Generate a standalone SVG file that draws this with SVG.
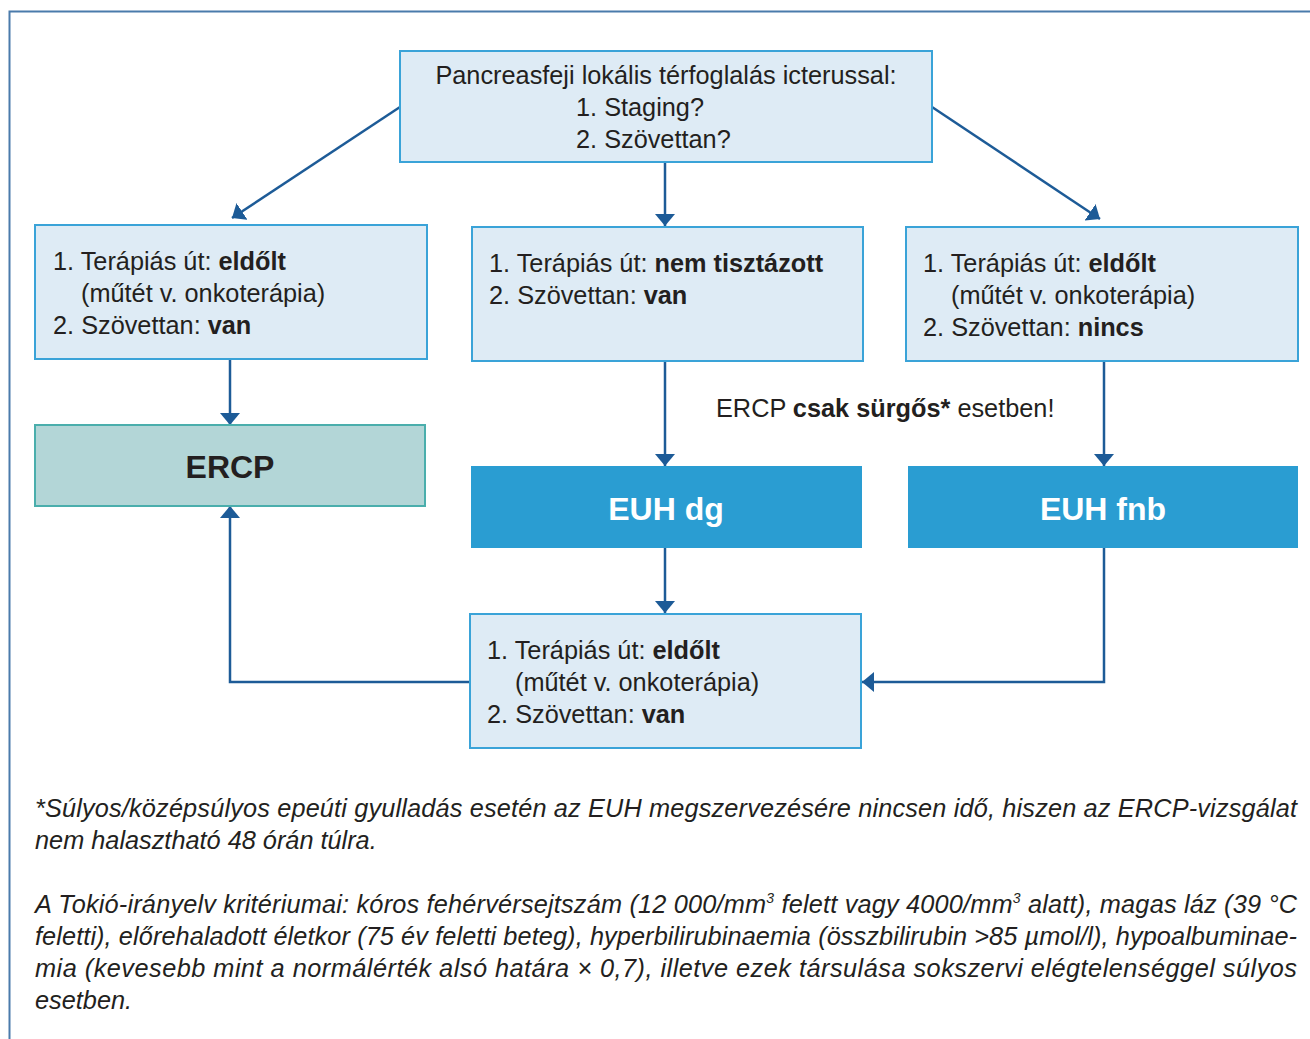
<svg xmlns="http://www.w3.org/2000/svg" width="1310" height="1039" viewBox="0 0 1310 1039">
<defs>
<marker id="ah" viewBox="0 0 12 20" refX="12" refY="10" markerWidth="12" markerHeight="20" markerUnits="userSpaceOnUse" orient="auto">
<path d="M0,0 L12,10 L0,20 Z" fill="#1d5b97"/>
</marker>
<style>
.box{fill:#deebf5;stroke:#3aa3d8;stroke-width:2}
.ercp{fill:#b3d6d7;stroke:#4aaeac;stroke-width:2}
.euh{fill:#2a9dd2}
.t{font-family:"Liberation Sans",Arial,sans-serif;font-size:25.3px;fill:#231f20}
.b{font-weight:bold}
.big{font-family:"Liberation Sans",Arial,sans-serif;font-size:32px;font-weight:bold}
.fn{font-family:"Liberation Sans",Arial,sans-serif;font-size:25.3px;font-style:italic;fill:#231f20}
.c{fill:none;stroke:#1d5b97;stroke-width:2.5;marker-end:url(#ah)}
</style>
</defs>
<rect width="1310" height="1039" fill="#ffffff"/>
<path d="M9.5,1039 V11.5 H1310" fill="none" stroke="#4a7bab" stroke-width="2"/>

<g id="connectors">
<line class="c" x1="400" y1="107" x2="232" y2="218"/>
<line class="c" x1="665" y1="162" x2="665" y2="226"/>
<line class="c" x1="932" y1="107" x2="1100" y2="219"/>
<line class="c" x1="230" y1="359" x2="230" y2="425"/>
<line class="c" x1="665" y1="361" x2="665" y2="466"/>
<line class="c" x1="1104" y1="361" x2="1104" y2="466"/>
<line class="c" x1="665" y1="548" x2="665" y2="613"/>
<polyline class="c" points="1104,548 1104,682 862,682"/>
<polyline class="c" points="470,682 230,682 230,506"/>
</g>

<g id="n-top">
<rect class="box" x="400" y="51" width="532" height="111"/>
<text class="t" x="666" y="84" text-anchor="middle">Pancreasfeji lokális térfoglalás icterussal:</text>
<text class="t" x="576" y="116">1. Staging?</text>
<text class="t" x="576" y="148">2. Szövettan?</text>
</g>

<g id="n-left">
<rect class="box" x="35" y="225" width="392" height="134"/>
<text class="t" x="53" y="270">1. Terápiás út: <tspan class="b">eldőlt</tspan></text>
<text class="t" x="81" y="302">(műtét v. onkoterápia)</text>
<text class="t" x="53" y="334">2. Szövettan: <tspan class="b">van</tspan></text>
</g>

<g id="n-mid">
<rect class="box" x="472" y="227" width="391" height="134"/>
<text class="t" x="489" y="272">1. Terápiás út: <tspan class="b">nem tisztázott</tspan></text>
<text class="t" x="489" y="304">2. Szövettan: <tspan class="b">van</tspan></text>
</g>

<g id="n-right">
<rect class="box" x="906" y="227" width="392" height="134"/>
<text class="t" x="923" y="272">1. Terápiás út: <tspan class="b">eldőlt</tspan></text>
<text class="t" x="951" y="304">(műtét v. onkoterápia)</text>
<text class="t" x="923" y="336">2. Szövettan: <tspan class="b">nincs</tspan></text>
</g>

<g id="n-ercp">
<rect class="ercp" x="35" y="425" width="390" height="81"/>
<text class="big" x="230" y="478" text-anchor="middle" fill="#231f20">ERCP</text>
</g>

<g id="n-euhdg">
<rect class="euh" x="471" y="466" width="391" height="82"/>
<text class="big" x="666" y="520" text-anchor="middle" fill="#ffffff">EUH dg</text>
</g>

<g id="n-euhfnb">
<rect class="euh" x="908" y="466" width="390" height="82"/>
<text class="big" x="1103" y="520" text-anchor="middle" fill="#ffffff">EUH fnb</text>
</g>

<g id="n-bottom">
<rect class="box" x="470" y="614" width="391" height="134"/>
<text class="t" x="487" y="659">1. Terápiás út: <tspan class="b">eldőlt</tspan></text>
<text class="t" x="515" y="691">(műtét v. onkoterápia)</text>
<text class="t" x="487" y="723">2. Szövettan: <tspan class="b">van</tspan></text>
</g>

<g id="note">
<text class="t" x="716" y="417">ERCP <tspan class="b">csak sürgős*</tspan> esetben!</text>
</g>

<g id="footnotes">
<text class="fn" x="35" y="817" textLength="1262" lengthAdjust="spacing">*Súlyos/középsúlyos epeúti gyulladás esetén az EUH megszervezésére nincsen idő, hiszen az ERCP-vizsgálat</text>
<text class="fn" x="35" y="849">nem halasztható 48 órán túlra.</text>
<text class="fn" x="35" y="913" textLength="1262" lengthAdjust="spacing">A Tokió-irányelv kritériumai: kóros fehérvérsejtszám (12 000/mm<tspan dy="-10" font-size="14">3</tspan><tspan dy="10"> felett vagy 4000/mm</tspan><tspan dy="-10" font-size="14">3</tspan><tspan dy="10"> alatt), magas láz (39 °C</tspan></text>
<text class="fn" x="35" y="945" textLength="1262" lengthAdjust="spacing">feletti), előrehaladott életkor (75 év feletti beteg), hyperbilirubinaemia (összbilirubin &gt;85 µmol/l), hypoalbuminae-</text>
<text class="fn" x="35" y="977" textLength="1262" lengthAdjust="spacing">mia (kevesebb mint a normálérték alsó határa × 0,7), illetve ezek társulása sokszervi elégtelenséggel súlyos</text>
<text class="fn" x="35" y="1009">esetben.</text>
</g>
</svg>
